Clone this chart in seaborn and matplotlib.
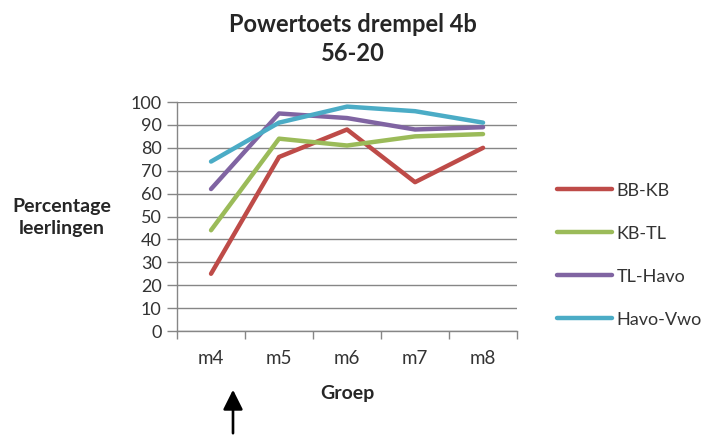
import matplotlib
matplotlib.use("Agg")
import matplotlib.pyplot as plt
import pandas as pd
import seaborn as sns

groups = ["m4", "m5", "m6", "m7", "m8"]
series_names = ["BB-KB", "KB-TL", "TL-Havo", "Havo-Vwo"]
bb_kb = [25, 76, 88, 65, 80]
kb_tl = [44, 84, 81, 85, 86]
tl_havo = [62, 95, 93, 88, 89]
havo_vwo = [74, 91, 98, 96, 91]
y_ticks = list(range(0, 101, 10))

colors = ["#BE4B48", "#9BBB59", "#8064A2", "#4BACC6"]

rows = []
for name, values in zip(series_names, [bb_kb, kb_tl, tl_havo, havo_vwo]):
    for i, v in enumerate(values):
        rows.append({"pos": i, "groep": groups[i], "serie": name, "waarde": v})
df = pd.DataFrame(rows)

sns.set_theme(style="white")
plt.rcParams["font.family"] = ["Lato", "DejaVu Sans"]

fig = plt.figure(figsize=(7.07, 4.36), dpi=100)
ax = fig.add_axes([0.2504, 0.2408, 0.4809, 0.5252])

sns.lineplot(data=df, x="pos", y="waarde", hue="serie", hue_order=series_names,
             palette=colors, linewidth=3.2, ax=ax, legend=True)

ax.set_xlim(-0.5, len(groups) - 0.5)
ax.set_ylim(0, 100)
ax.set_yticks(y_ticks)
ax.set_yticklabels([str(t) for t in y_ticks], fontsize=13, color="#333333")
ax.set_xticks([i - 0.5 for i in range(len(groups) + 1)])
ax.set_xticklabels([])
ax.set_xticks(range(len(groups)), minor=True)
ax.set_xticklabels(groups, minor=True, fontsize=13.5, color="#333333")
ax.tick_params(axis="x", which="major", length=6, width=1, color="#868686", direction="out", bottom=True)
ax.tick_params(axis="x", which="minor", length=0, pad=14)
ax.tick_params(axis="y", length=7, width=1, color="#868686", direction="out", left=True, pad=4)
ax.yaxis.grid(True, color="#868686", linewidth=1)
ax.set_axisbelow(True)
for side in ["top", "right"]:
    ax.spines[side].set_visible(False)
for side in ["left", "bottom"]:
    ax.spines[side].set_color("#868686")
    ax.spines[side].set_linewidth(1)

ax.set_xlabel("")
ax.set_ylabel("")
fig.text(0.4908, 1 - 393 / 436, "Groep", ha="center", va="center",
         fontsize=14, fontweight="bold")
fig.text(0.0877, 0.501, "Percentage\nleerlingen", ha="center", va="center",
         fontsize=14, fontweight="bold", linespacing=1.3)
fig.text(0.4993, 0.9106, "Powertoets drempel 4b\n56-20", ha="center", va="center",
         fontsize=17, fontweight="bold", linespacing=1.35)

leg = ax.legend(loc="upper left", bbox_to_anchor=(0.788, 0.5814), bbox_transform=fig.transFigure,
                frameon=False, fontsize=13, handlelength=3.05, handletextpad=0.25,
                labelspacing=1.5, borderaxespad=0, borderpad=0, title=None)
for t in leg.get_texts():
    t.set_color("#333333")

fig.patches.append(matplotlib.patches.FancyArrowPatch(
    (233 / 707, 0.0), (233 / 707, 1 - 387 / 436), transform=fig.transFigure,
    arrowstyle="-|>,head_length=12,head_width=6", mutation_scale=1,
    color="black", linewidth=1.9))

fig.savefig("out.png", dpi=100)
